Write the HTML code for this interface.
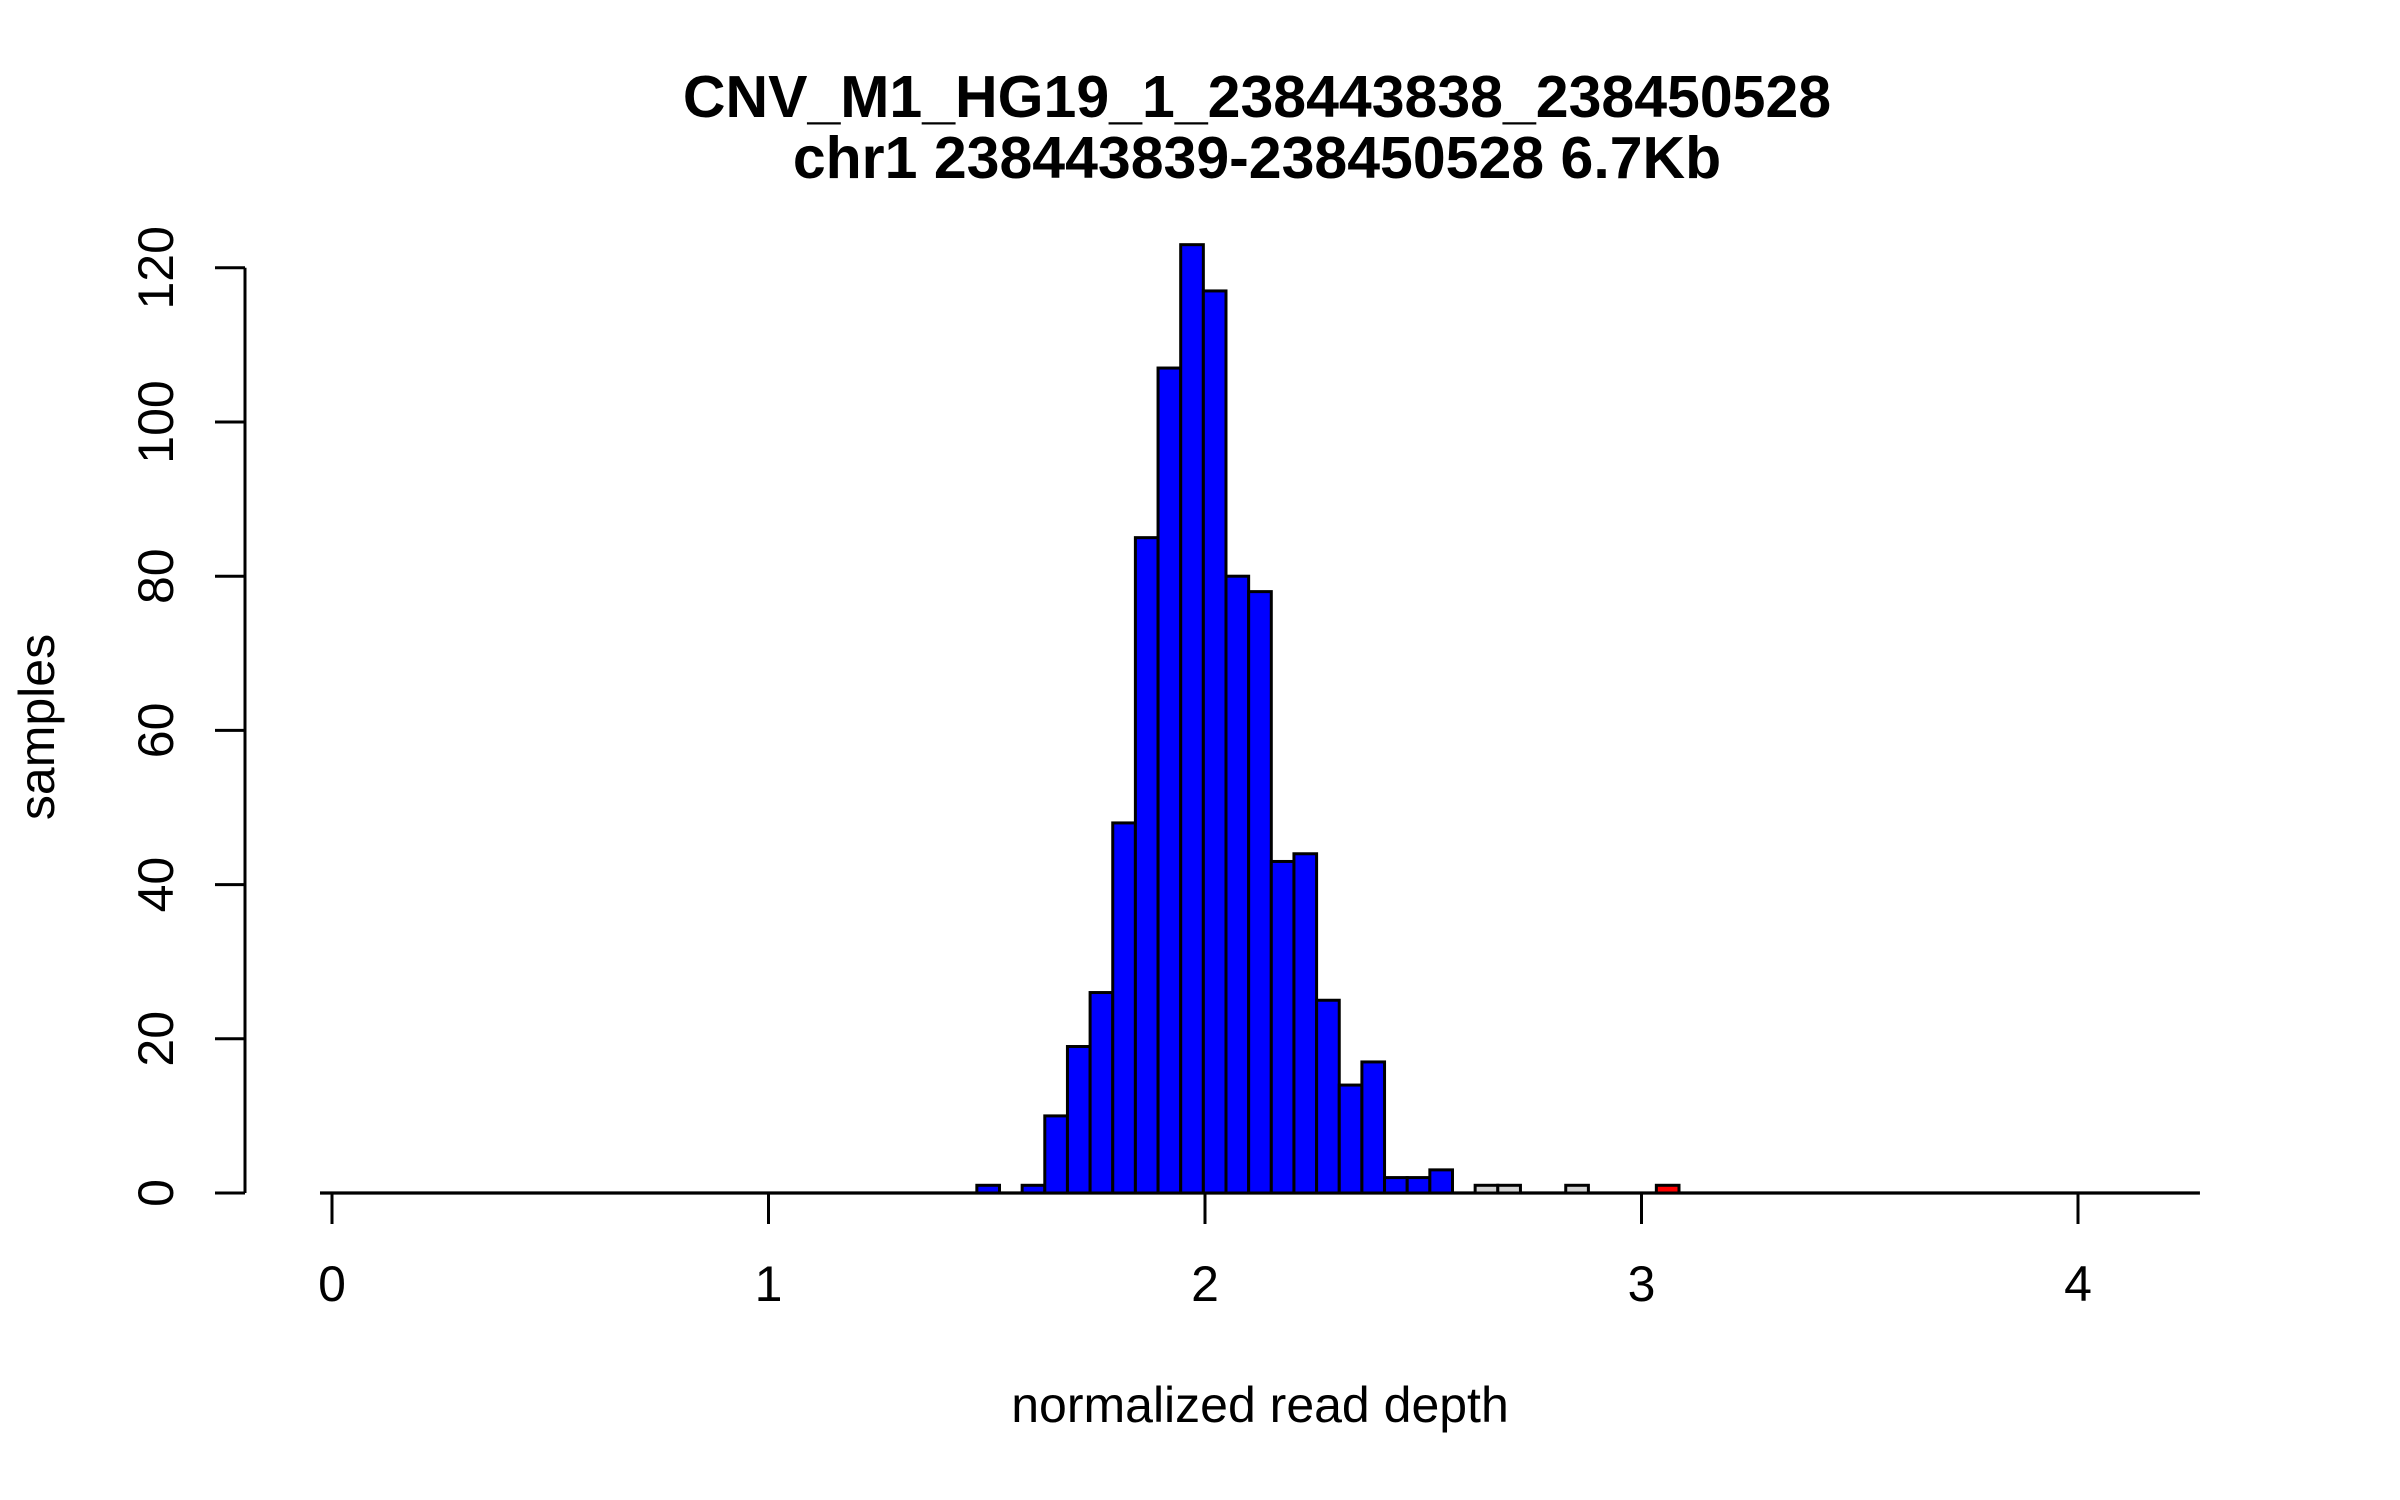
<!DOCTYPE html>
<html><head><meta charset="utf-8"><style>
html,body{margin:0;padding:0;background:#fff;}
svg{display:block;font-family:"Liberation Sans",Arial,sans-serif;}
</style></head><body>
<svg id="chart" width="2400" height="1500" viewBox="0 0 2400 1500" xmlns="http://www.w3.org/2000/svg">
<rect width="2400" height="1500" fill="#fff"/>
<text x="1257" y="117" font-size="59" font-weight="bold" text-anchor="middle">CNV_M1_HG19_1_238443838_238450528</text>
<text x="1257" y="178" font-size="59" font-weight="bold" text-anchor="middle">chr1 238443839-238450528 6.7Kb</text>
<text x="1260" y="1422" font-size="50" text-anchor="middle">normalized read depth</text>
<text transform="translate(54,727) rotate(-90)" font-size="50" text-anchor="middle">samples</text>
<g id="bars"></g>
<g id="axes"></g>
</svg>
<script>
const binIndices = [29,31,32,33,34,35,36,37,38,39,40,41,42,43,44,45,46,47,48,49,51,52,55,59];
const binCounts  = [1,1,10,19,26,48,85,107,123,117,80,78,43,44,25,14,17,2,2,3,1,1,1,1];
const binColors  = ["blue","blue","blue","blue","blue","blue","blue","blue","blue","blue","blue","blue","blue","blue","blue","blue","blue","blue","blue","blue","#d3d3d3","#d3d3d3","#d3d3d3","red"];
const xTicks = [0,1,2,3,4];
const yTicks = [0,20,40,60,80,100,120];
const binStart = -0.0275;
const binWidth = 0.05189;
const nBins = 83;

const NS = "http://www.w3.org/2000/svg";
function xs(v){ return 332 + v*436.5; }
function ys(v){ return 1193 - v*7.71; }
function mk(tag, attrs, parent){
  const e = document.createElementNS(NS, tag);
  for (const k in attrs) e.setAttribute(k, attrs[k]);
  parent.appendChild(e);
  return e;
}
const bars = document.getElementById('bars');
const axes = document.getElementById('axes');

const base = mk('line', {x1: xs(binStart), x2: xs(binStart + nBins*binWidth), y1: ys(0), y2: ys(0), stroke: '#000', 'stroke-width': 3.2}, bars);



for (let i = 0; i < binIndices.length; i++){
  const x0 = xs(binStart + binIndices[i]*binWidth);
  const x1 = xs(binStart + (binIndices[i]+1)*binWidth);
  const r = mk('rect', {x: x0, y: ys(binCounts[i]), width: x1-x0, height: ys(0)-ys(binCounts[i]), fill: binColors[i], stroke: '#000', 'stroke-width': 3}, bars);
  
  
}

const yl = mk('line', {x1: 245, x2: 245, y1: ys(yTicks[0]), y2: ys(yTicks[yTicks.length-1]), stroke: '#000', 'stroke-width': 3}, axes);


yTicks.forEach(v => {
  const t = mk('line', {x1: 215, x2: 245, y1: ys(v), y2: ys(v), stroke: '#000', 'stroke-width': 3}, axes);
  
  
  const lb = mk('text', {transform: 'translate(173,' + ys(v) + ') rotate(-90)', 'font-size': 50, 'text-anchor': 'middle'}, axes);
  lb.textContent = String(v);
  
  
});
xTicks.forEach(v => {
  const t = mk('line', {x1: xs(v), x2: xs(v), y1: ys(0), y2: 1224, stroke: '#000', 'stroke-width': 3}, axes);
  
  
  const lb = mk('text', {x: xs(v), y: 1301, 'font-size': 50, 'text-anchor': 'middle'}, axes);
  lb.textContent = String(v);
  
  
});
</script>
</body></html>
